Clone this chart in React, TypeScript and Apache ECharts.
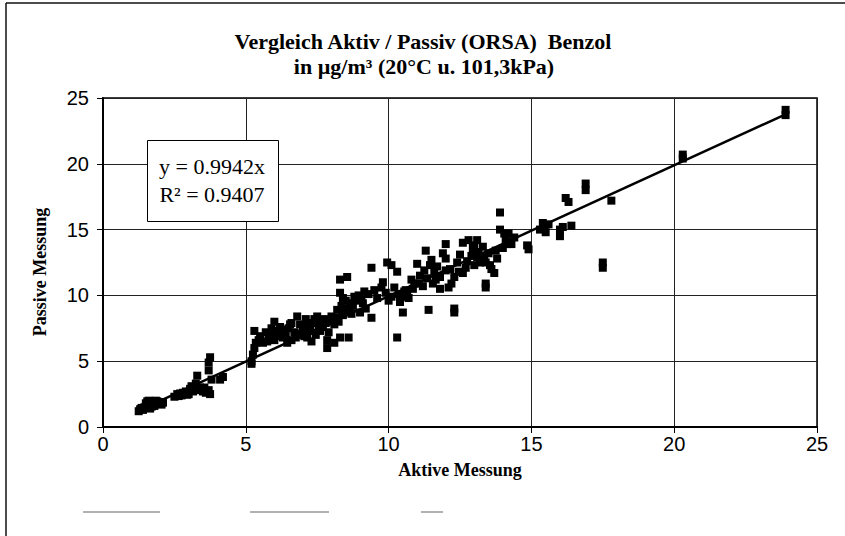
import React, { useEffect, useRef } from "react";
import * as echarts from "echarts";

const titleLine1 = "Vergleich Aktiv / Passiv (ORSA)  Benzol";
const titleLine2 = "in µg/m³ (20°C u. 101,3kPa)";
const xAxisName = "Aktive Messung";
const yAxisName = "Passive Messung";
const slope = 0.9942;
const rSquared = 0.9407;

// Aktive Messung (x) values
const activeX: number[] = [
  1.25, 1.3, 1.45, 1.5, 1.55, 1.6, 1.7, 1.75, 1.8, 1.85, 1.95, 2.0, 2.1, 1.4, 1.65,
  1.35, 1.55, 1.7, 1.9, 2.05,
  2.5, 2.6, 2.75, 2.8, 2.9, 3.0, 3.05, 3.15, 3.2, 3.25, 3.3, 3.35, 2.65,
  2.7, 2.95, 3.1, 3.4, 3.5,
  3.55, 3.6, 3.7, 3.75, 3.7, 3.7, 3.75, 3.8, 4.2, 4.1,
  5.2, 5.25, 5.3, 5.35, 5.45, 5.3, 5.6, 5.2,
  5.7, 5.9, 6.0, 6.1, 6.3, 6.4, 6.5, 6.6, 6.7, 6.8, 6.9, 7.0, 7.05, 7.15, 7.2, 7.3, 7.35, 7.4, 7.5, 7.6,
  7.7, 7.8, 7.85, 7.85, 8.0, 8.1, 8.2, 8.25, 8.3, 8.3, 8.35, 8.4, 8.5, 8.55, 8.6, 8.65, 8.3, 8.6, 8.7,
  8.8, 8.9, 9.0, 9.1, 6.2, 6.55, 6.0, 6.8, 7.6, 7.1, 5.8, 6.45, 7.9, 8.1,
  5.5, 5.75, 5.9, 6.05, 6.2, 6.35, 6.6, 6.75, 6.95, 7.1, 7.25, 7.45, 7.55, 7.75, 7.95, 8.15, 8.4, 8.45,
  8.75, 8.95, 9.05, 9.15,
  9.3, 9.4, 9.4, 9.5, 9.6, 9.75, 9.9, 9.95, 10.0, 10.1, 10.2, 10.3, 10.35, 10.4, 10.5, 10.55, 10.6, 10.7,
  10.8, 10.9, 9.2, 9.8, 10.1, 10.3,
  10.45, 10.65, 10.85, 11.05, 11.25, 11.45, 11.65, 12.15, 12.45, 12.75, 12.95, 13.15, 13.35, 13.55, 13.75,
  14.15, 14.25,
  11.0, 11.1, 11.2, 11.3, 11.4, 11.5, 11.55, 11.6, 11.7, 11.8, 11.9, 12.0, 12.0, 12.1, 12.2, 12.3, 12.3,
  12.3, 12.4, 12.5, 12.6, 12.6, 12.7, 12.8, 12.9, 13.0, 13.1, 13.1, 13.2, 13.3, 13.4, 13.4, 13.4, 13.5,
  13.6, 13.7, 13.8, 13.9, 13.9, 14.0, 14.05, 14.1, 14.2, 14.3, 14.4, 14.85, 14.9, 12.0, 11.8, 13.0, 11.35,
  15.3, 15.4, 15.45, 15.5, 15.6, 16.0, 16.0, 16.1, 16.2, 16.3, 16.4, 16.9, 16.9, 17.5, 17.5, 17.8,
  20.3, 20.3, 23.9, 23.9,
];

// Passive Messung (y) values
const passiveY: number[] = [
  1.2, 1.35, 1.5, 1.8, 1.6, 2.0, 1.75, 1.9, 1.6, 2.0, 1.75, 1.9, 1.85, 1.3, 1.4,
  1.45, 1.95, 1.55, 1.95, 1.7,
  2.3, 2.5, 2.4, 2.6, 2.7, 2.5, 2.9, 2.7, 3.0, 3.3, 3.9, 2.8, 2.35,
  2.55, 2.45, 3.1, 3.0, 2.7,
  3.0, 2.6, 2.8, 2.5, 4.3, 4.9, 5.3, 3.6, 3.8, 3.6,
  5.0, 5.5, 6.0, 6.4, 6.6, 7.3, 6.4, 4.8,
  7.2, 7.5, 8.0, 7.1, 6.8, 7.0, 7.5, 6.6, 7.2, 8.4, 7.8, 7.4, 6.9, 6.8, 7.6, 6.5, 7.9, 8.2, 8.4, 7.3,
  7.6, 7.9, 6.6, 6.0, 8.4, 7.8, 8.9, 8.0, 10.2, 11.2, 9.2, 8.5, 9.6, 11.4, 9.0, 9.4, 6.8, 6.8, 8.6,
  9.9, 9.6, 8.7, 9.4, 7.6, 7.8, 6.6, 7.0, 8.1, 8.2, 6.8, 6.4, 7.2, 6.4,
  6.9, 6.5, 7.0, 7.3, 6.9, 7.4, 7.9, 6.8, 7.1, 7.7, 7.3, 7.0, 7.7, 8.2, 8.0, 8.3, 9.8, 8.8,
  9.2, 10.0, 9.7, 10.3,
  10.1, 8.3, 12.1, 10.4, 9.8, 10.6, 10.2, 12.5, 9.6, 9.9, 10.6, 6.8, 10.1, 9.5, 8.7, 10.3, 10.4, 9.8,
  11.2, 10.9, 9.0, 11.0, 12.3, 11.8,
  9.9, 10.0, 10.5, 10.9, 11.9, 12.3, 11.2, 12.0, 11.8, 12.6, 13.6, 13.3, 12.9, 12.3, 13.4,
  13.9, 14.1,
  12.4, 11.5, 10.7, 13.4, 8.9, 12.7, 10.9, 11.8, 12.2, 11.4, 13.2, 11.9, 12.8, 10.6, 10.9, 11.4, 9.0,
  8.7, 12.5, 13.1, 11.7, 14.0, 12.1, 14.2, 13.0, 12.3, 14.2, 12.9, 12.5, 13.7, 12.5, 10.9, 10.6, 13.2,
  12.0, 11.7, 12.8, 16.3, 15.0, 13.6, 14.7, 14.2, 14.7, 13.9, 14.4, 13.8, 13.5, 13.9, 10.5, 13.8, 11.3,
  15.0, 15.5, 15.3, 14.8, 15.4, 15.0, 14.5, 15.2, 17.4, 17.1, 15.3, 18.5, 18.0, 12.5, 12.1, 17.2,
  20.7, 20.4, 24.1, 23.7,
];

const points = activeX.map((x, i) => [x, passiveY[i]]);
const xMin = Math.min(...activeX);
const xMax = Math.max(...activeX);
const trendLine = [
  [xMin, slope * xMin],
  [xMax, slope * xMax],
];

const serif = "'Liberation Serif', 'Times New Roman', serif";
const sans = "'Liberation Sans', Arial, sans-serif";

export default function App() {
  const ref = useRef<HTMLDivElement>(null);
  useEffect(() => {
    if (!ref.current) return;
    const chart = echarts.init(ref.current, null, { renderer: "svg" });
    const axisCommon = {
      type: "value" as const,
      min: 0,
      max: 25,
      interval: 5,
      axisLine: { show: true, onZero: false, lineStyle: { color: "#000", width: 2 } },
      axisTick: { show: true, length: 6, lineStyle: { color: "#000", width: 1 } },
      splitLine: { show: true, lineStyle: { color: "#222", width: 1 } },
      axisLabel: { color: "#000", fontSize: 20, fontFamily: sans },
    };
    const centered = (text: string, x: number, y: number, font: string, extra: any = {}) => ({
      type: "text",
      x,
      y,
      ...extra,
      style: { text, font, fill: "#000", textAlign: "center", textVerticalAlign: "middle" },
    });
    chart.setOption({
      animation: false,
      backgroundColor: "#fff",
      grid: {
        left: 103,
        right: 28,
        top: 98,
        bottom: 109,
        show: true,
        borderColor: "#000",
        borderWidth: 1.5,
        backgroundColor: "transparent",
      },
      xAxis: {
        ...axisCommon,
        axisLabel: { ...axisCommon.axisLabel, margin: 7 },
      },
      yAxis: {
        ...axisCommon,
        axisLabel: { ...axisCommon.axisLabel, margin: 14 },
      },
      graphic: [
        { type: "line", shape: { x1: 6, y1: 3, x2: 845, y2: 3 }, style: { stroke: "#111", lineWidth: 1.5 } },
        { type: "line", shape: { x1: 6, y1: 3, x2: 6, y2: 536 }, style: { stroke: "#111", lineWidth: 1.5 } },
        { type: "line", shape: { x1: 83, y1: 512, x2: 160, y2: 512 }, style: { stroke: "#999", lineWidth: 1.5 } },
        { type: "line", shape: { x1: 250, y1: 512, x2: 329, y2: 512 }, style: { stroke: "#999", lineWidth: 1.5 } },
        { type: "line", shape: { x1: 421, y1: 512, x2: 443, y2: 512 }, style: { stroke: "#999", lineWidth: 1.5 } },
        centered(titleLine1, 423, 41, `bold 22px ${serif}`),
        centered(titleLine2, 424, 66, `bold 22px ${serif}`),
        centered(xAxisName, 460, 470, `bold 18px ${serif}`),
        centered(yAxisName, 40, 272, `bold 18px ${serif}`, { rotation: Math.PI / 2 }),
        {
          type: "rect",
          shape: { x: 147.5, y: 140.5, width: 131, height: 81 },
          style: { fill: "#fff", stroke: "#000", lineWidth: 1 },
          z: 100,
        },
        centered(`y = ${slope}x`, 212, 166, `22px ${serif}`, { z: 101 }),
        centered(`R² = ${rSquared}`, 212, 194, `22px ${serif}`, { z: 101 }),
      ],
      series: [
        {
          type: "scatter",
          data: points,
          symbol: "rect",
          symbolSize: 8,
          itemStyle: { color: "#000", opacity: 1 },
          z: 3,
        },
        {
          type: "line",
          data: trendLine,
          showSymbol: false,
          symbol: "none",
          lineStyle: { color: "#000", width: 2.5 },
          z: 4,
        },
      ],
    });
    return () => chart.dispose();
  }, []);
  return <div ref={ref} style={{ position: "fixed", left: 0, top: 0, width: 845, height: 536 }} />;
}
